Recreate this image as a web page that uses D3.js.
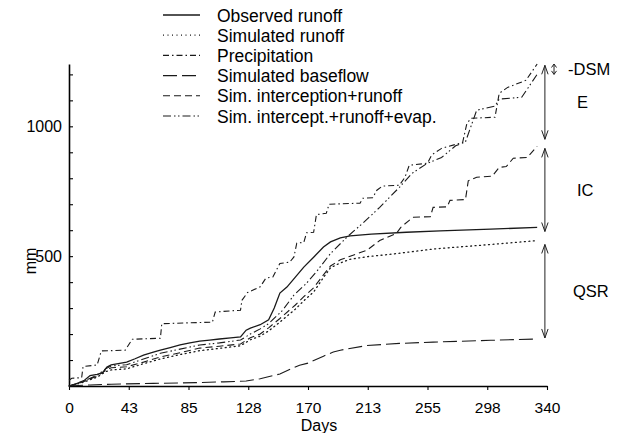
<!DOCTYPE html>
<html><head><meta charset="utf-8">
<script src="https://cdn.jsdelivr.net/npm/d3@7"></script>
<style>
html,body{margin:0;padding:0;background:#fff;}
text{font-family:"Liberation Sans",Arial,sans-serif;fill:#000;}
</style></head>
<body><svg id="c" width="624" height="433"></svg>
<script>
// ---- data: [day, mm] ----
const observedRunoff = [[0,0],[5,8],[11,22],[15,40],[20,45],[24,52],[27,73],[30,81],[35,86],[41,92],[47,105],[53,119],[60,130],[65,138],[72,148],[79,158],[86,166],[93,173],[100,177],[107,181],[115,185],[122,189],[126,215],[129,223],[136,236],[142,255],[146,300],[150,358],[155,381],[161,419],[167,458],[174,496],[181,535],[186,555],[193,570],[200,578],[215,585],[240,592],[264,597],[300,604],[333,611]];
const simulatedRunoff = [[0,0],[5,6],[11,16],[20,34],[26,55],[30,62],[41,66],[53,86],[65,104],[79,121],[93,136],[107,145],[122,155],[129,178],[136,192],[142,212],[150,246],[161,296],[167,328],[174,362],[181,418],[186,455],[193,474],[200,488],[212,498],[230,508],[260,528],[300,545],[333,560]];
const precipitation = [[0,22],[2,30],[9,32],[10,75],[20,81],[23,135],[40,138],[45,180],[65,184],[66,240],[102,246],[104,285],[122,292],[123,330],[127,360],[136,382],[140,415],[145,420],[150,472],[157,477],[160,497],[162,550],[167,553],[169,590],[174,592],[176,660],[183,665],[185,700],[207,704],[209,723],[216,725],[219,754],[223,770],[235,773],[239,804],[242,850],[255,858],[258,890],[265,915],[280,938],[283,1011],[286,1031],[303,1035],[306,1127],[312,1150],[325,1177],[333,1240]];
const simBaseflow = [[0,0],[15,4],[30,7],[60,10],[90,13],[110,16],[126,19],[136,28],[141,35],[150,46],[159,69],[164,80],[170,88],[181,115],[188,131],[193,138],[212,156],[235,164],[259,169],[300,176],[333,181]];
const simInterceptionRunoff = [[0,0],[5,7],[11,18],[20,38],[26,60],[30,70],[41,74],[53,92],[65,112],[79,128],[93,146],[107,153],[122,162],[129,186],[136,200],[142,224],[150,260],[161,312],[167,344],[174,378],[181,428],[186,462],[193,486],[200,500],[212,523],[221,560],[233,588],[236,611],[242,638],[245,650],[257,652],[259,688],[269,690],[271,715],[282,718],[284,790],[290,804],[301,808],[306,842],[311,845],[316,877],[326,880],[333,923]];
const simInterceptRunoffEvap = [[0,0],[5,9],[11,20],[20,41],[26,66],[30,77],[41,82],[53,104],[65,126],[79,142],[93,158],[107,166],[122,177],[129,200],[136,220],[142,240],[152,292],[160,350],[169,396],[176,440],[186,510],[198,575],[209,627],[221,688],[235,765],[244,819],[255,858],[265,880],[275,925],[282,940],[290,1062],[303,1078],[306,1105],[322,1112],[333,1200]];

const seriesNames = ["Observed runoff","Simulated runoff","Precipitation","Simulated baseflow","Sim. interception+runoff","Sim. intercept.+runoff+evap."];
const xTickValues = [0,42.5,85,127.5,170,212.5,255,297.5,340];
const yTickValues = [100,200,300,400,500,600,700,800,900,1000,1100,1200];
const yTickLabels = [500,1000];
// budget arrows: [label, top mm, bottom mm]
const budgetLabels = ["-DSM","E","IC","QSR"];
const budgetTop = [1240,1235,915,545];
const budgetBottom = [1200,950,595,185];

// ---- layout ----
const svg = d3.select("#c");
const x = d3.scaleLinear().domain([0,340]).range([69,547]);
const y = d3.scaleLinear().domain([0,1240]).range([386,64]);

const dashes = ["", "1,3.5", "6,3,1.5,3", "14,5", "7,4", "8,3,1.5,2.5,1.5,3"];
const widths = [1.3,1.3,1.1,1.1,1.1,1.1];
const data = [observedRunoff, simulatedRunoff, precipitation, simBaseflow, simInterceptionRunoff, simInterceptRunoffEvap];

// axes
const xa = svg.append("g").attr("transform","translate(0,386)")
  .call(d3.axisBottom(x).tickValues(xTickValues).tickFormat(d=>Math.round(d)).tickSizeInner(4).tickSizeOuter(0).tickPadding(12));
xa.selectAll("text").style("font-size","15.5px");
const ya = svg.append("g").attr("transform","translate(69,0)")
  .call(d3.axisLeft(y).tickValues(yTickValues).tickFormat(d=>yTickLabels.includes(d)?d:"").tickSizeInner(-4).tickSizeOuter(0).tickPadding(7));
ya.selectAll("text").style("font-size","16px");
svg.selectAll(".domain").attr("stroke","#000").attr("stroke-width",1.6);
svg.selectAll(".tick line").attr("stroke","#000").attr("stroke-width",1.1);

svg.append("text").attr("x",319).attr("y",431).attr("text-anchor","middle").style("font-size","16px").text("Days");
svg.append("text").attr("transform","translate(36,261) rotate(-90)").attr("text-anchor","middle").style("font-size","16px").text("mm");

// lines
const line = d3.line().x(d=>x(d[0])).y(d=>y(d[1]));
data.forEach((s,i)=>{
  svg.append("path").attr("d",line(s)).attr("fill","none").attr("stroke","#1a1a1a")
    .attr("stroke-width",widths[i]).attr("stroke-dasharray",dashes[i]||null)
    .attr("stroke-linecap", i===1?"round":"butt");
});

// legend
const lg = svg.append("g");
seriesNames.forEach((n,i)=>{
  const cy = 15 + i*20.2;
  lg.append("line").attr("x1",163).attr("x2",200).attr("y1",cy).attr("y2",cy)
    .attr("stroke","#1a1a1a").attr("stroke-width",widths[i]).attr("stroke-dasharray",dashes[i]||null);
  lg.append("text").attr("x",217).attr("y",cy+6.5).style("font-size","17.5px").text(n);
});

// budget arrows
const arrowX = [x(345), x(338.5), x(338.5), x(338.5)];
const labelX = [568, 577, 577, 573];
budgetLabels.forEach((lab,i)=>{
  const ax = arrowX[i], y1 = y(budgetTop[i]), y2 = y(budgetBottom[i]);
  const g = svg.append("g").attr("stroke","#222").attr("stroke-width",1).attr("fill","none");
  const h = i===0 ? 3.5 : 9, w = i===0 ? 2.5 : 3.2;
  g.append("line").attr("x1",ax).attr("x2",ax).attr("y1",y1).attr("y2",y2);
  g.append("path").attr("d",`M${ax-w},${y1+h}L${ax},${y1}L${ax+w},${y1+h}`);
  g.append("path").attr("d",`M${ax-w},${y2-h}L${ax},${y2}L${ax+w},${y2-h}`);
  svg.append("text").attr("x",labelX[i]).attr("y",(y1+y2)/2 + 6)
    .style("font-size","16.5px").text(lab);
});
</script></body></html>
